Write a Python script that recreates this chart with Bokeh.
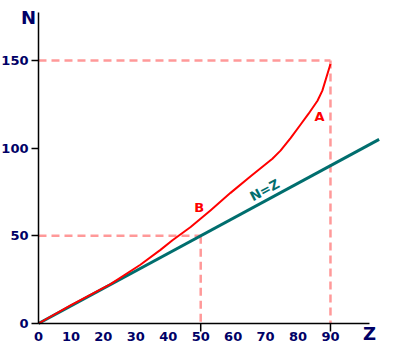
from bokeh.plotting import figure
from bokeh.models import Range1d, LinearAxis, FixedTicker
from bokeh.core.properties import value
from bokeh.embed import file_html
from bokeh.resources import INLINE

# Data
stab_Z = [0, 10, 22.2, 31.4, 37.6, 41.3, 46.9, 53.0, 59.2, 65.4, 72.1, 74.6, 77.7, 80.8, 83.2, 86.0, 87.5, 90.0]
stab_N = [0, 10.5, 22.5, 33.5, 42.0, 47.5, 55.0, 64.5, 74.5, 84.0, 94.0, 98.6, 105.7, 113.5, 119.5, 127.0, 132.8, 148.0]
eq_Z = [0, 105]
eq_N = [0, 105]
guide_Z = [50, 90]
guide_N = [50, 150]
x_ticks = [0, 10, 20, 30, 40, 50, 60, 70, 80, 90]
x_tick_marks = [50, 90]
y_ticks = [0, 50, 100, 150]

NAVY = "#000066"
TEAL = "#006e6e"
RED = "#ff0000"
PINK = "#ff9999"
FONT = value("DejaVu Sans")

p = figure(width=414, height=352, x_range=Range1d(-11.71, 115.9), y_range=Range1d(-16.54, 184.2),
           output_backend="svg", toolbar_location=None, x_axis_type=None, y_axis_type=None,
           min_border=0)
p.outline_line_color = None
p.background_fill_color = "white"

# dashed guides
for gz, gn in zip(guide_Z, guide_N):
    p.line([0, gz], [gn, gn], line_color=PINK, line_width=2.5, line_dash="8 5")
    p.line([gz, gz], [gn, 0], line_color=PINK, line_width=2.5, line_dash="8 5")

# N=Z line and stability curve
p.line(eq_Z, eq_N, line_color=TEAL, line_width=3)
p.line(stab_Z, stab_N, line_color=RED, line_width=2, line_join="round")

# axes
xaxis = LinearAxis(fixed_location=0, ticker=FixedTicker(ticks=x_ticks), bounds=(0, 102),
                   major_tick_out=0, major_tick_in=0, minor_tick_out=0, minor_tick_in=0,
                   major_label_standoff=9, axis_line_color="black", axis_line_width=1.5,
                   major_label_text_color=NAVY, major_label_text_font="DejaVu Sans",
                   major_label_text_font_style="bold", major_label_text_font_size="13px")
p.add_layout(xaxis, "below")
yaxis = LinearAxis(fixed_location=0, ticker=FixedTicker(ticks=y_ticks), bounds=(0, 177.4),
                   major_tick_out=7, major_tick_in=0, minor_tick_out=0, minor_tick_in=0,
                   major_tick_line_width=1.5, major_tick_line_color="black",
                   major_label_standoff=3, axis_line_color="black", axis_line_width=1.5,
                   major_label_text_color=NAVY, major_label_text_font="DejaVu Sans",
                   major_label_text_font_style="bold", major_label_text_font_size="13px")
p.add_layout(yaxis, "left")

# x tick marks only at 50 and 90
p.segment(x0=x_tick_marks, y0=[0] * len(x_tick_marks), x1=x_tick_marks, y1=[-4.6] * len(x_tick_marks),
          line_color="black", line_width=1.5)

# texts
p.text(x=[-3.1], y=[174.6], text=["N"], text_color=NAVY, text_font=FONT, text_font_style="bold",
       text_font_size="18px", text_align="center", text_baseline="middle")
p.text(x=[102.0], y=[-5.7], text=["Z"], text_color=NAVY, text_font=FONT, text_font_style="bold",
       text_font_size="18px", text_align="center", text_baseline="middle")
p.text(x=[49.5], y=[66], text=["B"], text_color=RED, text_font=FONT, text_font_style="bold",
       text_font_size="13px", text_align="center", text_baseline="middle")
p.text(x=[86.6], y=[118], text=["A"], text_color=RED, text_font=FONT, text_font_style="bold",
       text_font_size="13px", text_align="center", text_baseline="middle")
p.text(x=[69.7], y=[76], text=["N=Z"], text_color=TEAL, text_font=FONT, text_font_style="bold",
       text_font_size="13px", text_align="center", text_baseline="middle", angle=0.49)

open("out.html", "w").write(file_html(p, INLINE))
